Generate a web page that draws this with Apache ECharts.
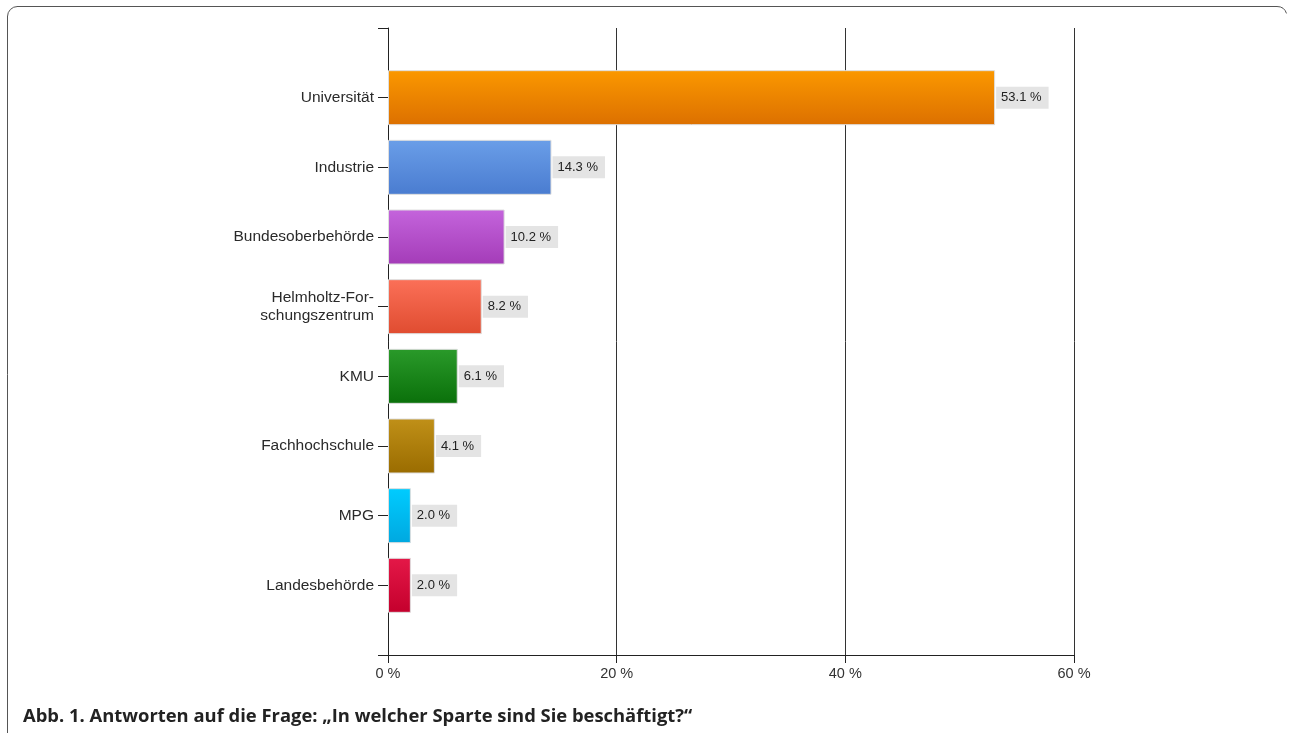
<!DOCTYPE html>
<html><head><meta charset="utf-8">
<script src="https://cdn.jsdelivr.net/npm/echarts@6/dist/echarts.min.js"></script>
<style>html,body{margin:0;padding:0;background:#fff}#c{width:1289px;height:733px}</style>
</head><body><div id="c"></div>
<script>
const categories = ['Universität','Industrie','Bundesoberbehörde','Helmholtz-For-\nschungszentrum','KMU','Fachhochschule','MPG','Landesbehörde'];
const values = [53.1,14.3,10.2,8.2,6.1,4.1,2.0,2.0];
const colorsTop = ['#fb9800','#6a9ee8','#c464dc','#fb7058','#2a9a2a','#c09018','#00ccff','#e41848'];
const colorsBottom = ['#dc7000','#4a7cd0','#a43cb8','#e04c30','#0a700a','#9a6c00','#00a8e0','#c4002c'];
const xTicks = [0,20,40,60];

const axisCats = [''].concat(categories, ['']);
const seriesData = [{value:'-'}].concat(values.map((v,i)=>({
  value:v,
  itemStyle:{color:new echarts.graphic.LinearGradient(0,0,0,1,[{offset:0,color:colorsTop[i]},{offset:1,color:colorsBottom[i]}])}
})), [{value:'-'}]);

const frameStyle = {fill:null,stroke:'#555',lineWidth:1};
const chart = echarts.init(document.getElementById('c'));
chart.setOption({
  animation:false,
  backgroundColor:'#fff',
  title:{text:'Abb. 1. Antworten auf die Frage: „In welcher Sparte sind Sie beschäftigt?“',left:18,top:703,
    textStyle:{fontFamily:'Open Sans',fontWeight:'bold',fontSize:18.4,color:'#222'}},
  graphic:[
    {type:'polyline',shape:{points:[[7.5,733],[7.5,16]]},style:frameStyle,silent:true},
    {type:'arc',shape:{cx:17.5,cy:16.5,r:10,startAngle:Math.PI,endAngle:Math.PI*1.5},style:frameStyle,silent:true},
    {type:'polyline',shape:{points:[[17,6.5],[1277,6.5]]},style:frameStyle,silent:true},
    {type:'arc',shape:{cx:1277,cy:16.5,r:10,startAngle:Math.PI*1.5,endAngle:Math.PI*1.9},style:frameStyle,silent:true}
  ],
  grid:{left:388,top:28,right:215,bottom:78,containLabel:false},
  xAxis:{type:'value',min:xTicks[0],max:xTicks[xTicks.length-1],interval:20,
    axisLine:{show:true,lineStyle:{color:'#222'}},
    axisTick:{show:true,length:8,lineStyle:{color:'#222'}},
    axisLabel:{formatter:'{value} %',fontFamily:'Liberation Sans',fontSize:14.5,color:'#333',margin:11},
    splitLine:{show:true,lineStyle:{color:'#333',width:1}}},
  yAxis:{type:'category',inverse:true,boundaryGap:false,data:axisCats,
    axisLine:{show:true,onZero:false,lineStyle:{color:'#222'}},
    axisTick:{show:true,length:10,interval:0,lineStyle:{color:'#222'}},
    axisLabel:{interval:0,fontFamily:'Liberation Sans',fontSize:15.5,color:'#2a2a2a',margin:14,lineHeight:18,align:'right'},
    splitLine:{show:false}},
  series:[{type:'bar',data:seriesData,barWidth:55,
    itemStyle:{borderColor:'#dedede',borderWidth:1},
    label:{show:true,position:'right',distance:1,
      formatter:p=>p.value.toFixed(1)+' %',
      fontFamily:'Liberation Sans',fontSize:13,color:'#222',
      backgroundColor:'#e4e4e4',padding:[5,7,4,5]}}]
});
</script></body></html>
